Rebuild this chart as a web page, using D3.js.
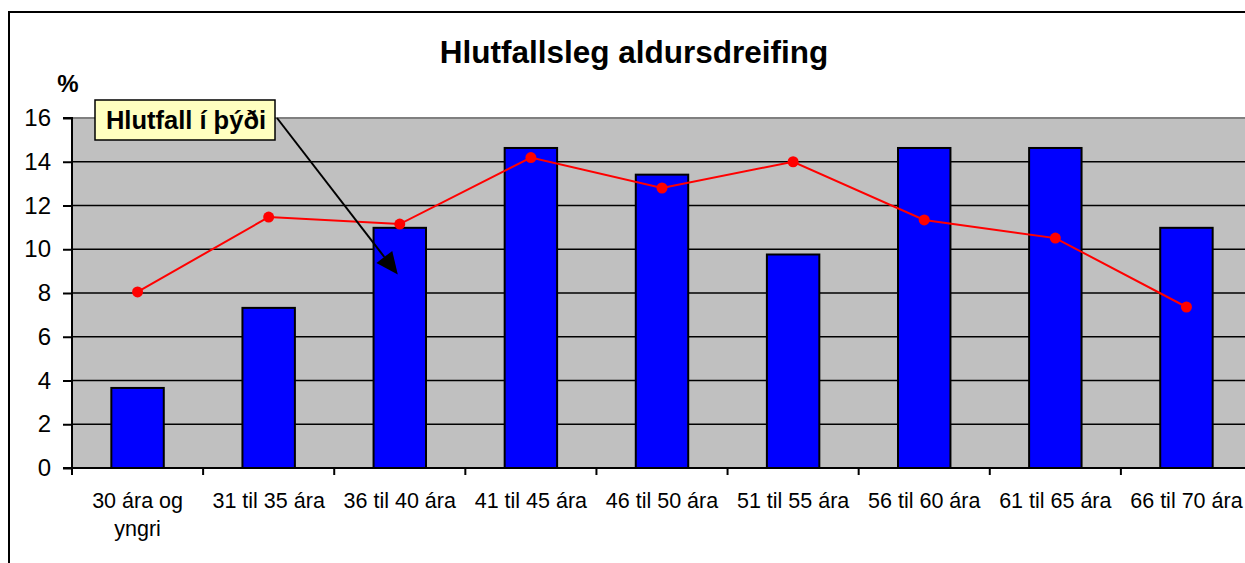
<!DOCTYPE html>
<html>
<head>
<meta charset="utf-8">
<script src="https://cdn.jsdelivr.net/npm/d3@7"></script>
<style>
  html, body { margin: 0; padding: 0; background: #fff; }
  svg { display: block; font-family: Arial, "Liberation Sans", sans-serif; }
</style>
</head>
<body>
<svg id="chart" width="1245" height="563"></svg>
<script>
const categories = ["30 ára og|yngri", "31 til 35 ára", "36 til 40 ára", "41 til 45 ára", "46 til 50 ára", "51 til 55 ára", "56 til 60 ára", "61 til 65 ára", "66 til 70 ára"];
const sampleShare = [3.66, 7.32, 10.98, 14.63, 13.41, 9.76, 14.63, 14.63, 10.98];
const populationShare = [8.05, 11.47, 11.15, 14.19, 12.8, 14.0, 11.34, 10.51, 7.36];
const yTicks = [0, 2, 4, 6, 8, 10, 12, 14, 16];
const titleText = "Hlutfallsleg aldursdreifing";
const yUnitText = "%";
const calloutText = "Hlutfall í þýði";

const svg = d3.select("#chart");
const W = 1245, H = 563;
const plot = { left: 72, right: 1252, top: 118, bottom: 468 };

// outer chart border (cropped on right and bottom)
svg.append("path")
  .attr("d", `M9,${H + 5} L9,12 L${W + 5},12`)
  .attr("fill", "none").attr("stroke", "#000").attr("stroke-width", 2);

const x = d3.scaleBand().domain(categories).range([plot.left, plot.right])
  .paddingInner(0.6).paddingOuter(0.3);
const y = d3.scaleLinear().domain([0, 16]).range([plot.bottom, plot.top]);

// plot area
svg.append("rect")
  .attr("x", plot.left).attr("y", plot.top)
  .attr("width", plot.right - plot.left).attr("height", plot.bottom - plot.top)
  .attr("fill", "#C0C0C0");
svg.append("line")
  .attr("x1", plot.left).attr("x2", plot.right)
  .attr("y1", plot.top).attr("y2", plot.top)
  .attr("stroke", "#808080").attr("stroke-width", 2);

// gridlines
svg.append("g").selectAll("line").data(yTicks.filter(d => d > 0 && d < 16)).join("line")
  .attr("x1", plot.left).attr("x2", plot.right)
  .attr("y1", d => y(d)).attr("y2", d => y(d))
  .attr("stroke", "#000").attr("stroke-width", 1.6);

// bars
svg.append("g").selectAll("rect").data(sampleShare).join("rect")
  .attr("x", (d, i) => x(categories[i]))
  .attr("y", d => y(d))
  .attr("width", x.bandwidth())
  .attr("height", d => y(0) - y(d))
  .attr("fill", "#0000FF").attr("stroke", "#000").attr("stroke-width", 2);

// y axis
const yAxis = d3.axisLeft(y).tickValues(yTicks).tickSize(9).tickPadding(12).tickFormat(d3.format("d"));
const gy = svg.append("g").attr("transform", `translate(${plot.left},0)`).call(yAxis);
gy.select(".domain").attr("stroke", "#000").attr("stroke-width", 2).attr("d", `M-9,${plot.top}H0V${plot.bottom}H-9`);
gy.selectAll(".tick line").attr("stroke", "#000").attr("stroke-width", 2);
gy.selectAll(".tick text").attr("fill", "#000").attr("font-size", 24)
  .attr("font-family", "Arial, 'Liberation Sans', sans-serif");

// x axis line and ticks at category boundaries
const boundaries = categories.map(d => x(d) - (x(categories[0]) - plot.left));
svg.append("line")
  .attr("x1", plot.left).attr("x2", plot.right)
  .attr("y1", plot.bottom).attr("y2", plot.bottom)
  .attr("stroke", "#000").attr("stroke-width", 2);
svg.append("g").selectAll("line").data(boundaries).join("line")
  .attr("x1", d => d).attr("x2", d => d)
  .attr("y1", plot.bottom).attr("y2", plot.bottom + 7)
  .attr("stroke", "#000").attr("stroke-width", 2);

// x labels
const xl = svg.append("g").selectAll("text").data(categories).join("text")
  .attr("x", d => x(d) + x.bandwidth() / 2)
  .attr("y", 508)
  .attr("text-anchor", "middle")
  .attr("font-size", 21.5)
  .attr("fill", "#000");
xl.each(function(d) {
  const parts = d.split("|");
  const t = d3.select(this);
  parts.forEach((p, k) => {
    t.append("tspan").attr("x", x(d) + x.bandwidth() / 2).attr("dy", k === 0 ? 0 : 28).text(p);
  });
});

// line series
const line = d3.line()
  .x((d, i) => x(categories[i]) + x.bandwidth() / 2)
  .y(d => y(d));
svg.append("path").datum(populationShare)
  .attr("d", line).attr("fill", "none").attr("stroke", "#FF0000").attr("stroke-width", 2);
svg.append("g").selectAll("circle").data(populationShare).join("circle")
  .attr("cx", (d, i) => x(categories[i]) + x.bandwidth() / 2)
  .attr("cy", d => y(d))
  .attr("r", 5.5).attr("fill", "#FF0000");

// title and unit
svg.append("text").attr("x", 634).attr("y", 63).attr("text-anchor", "middle")
  .attr("font-size", 31.5).attr("font-weight", "bold").attr("fill", "#000").text(titleText);
svg.append("text").attr("x", 68).attr("y", 92).attr("text-anchor", "middle")
  .attr("font-size", 24).attr("font-weight", "bold").attr("fill", "#000").text(yUnitText);

// callout with arrow
const box = { x: 95, y: 100, w: 180, h: 40 };
const tip = [x(categories[2]) + x.bandwidth() / 2 - 2, y(8.85)];
const start = [box.x + box.w + 2, box.y + 18];
const ang = Math.atan2(tip[1] - start[1], tip[0] - start[0]);
const headLen = 22, headHalf = 10;
const base = [tip[0] - headLen * Math.cos(ang), tip[1] - headLen * Math.sin(ang)];
svg.append("line")
  .attr("x1", start[0]).attr("y1", start[1]).attr("x2", base[0]).attr("y2", base[1])
  .attr("stroke", "#000").attr("stroke-width", 2);
svg.append("path")
  .attr("d", `M${tip[0]},${tip[1]} L${base[0] + headHalf * Math.sin(ang)},${base[1] - headHalf * Math.cos(ang)} L${base[0] - headHalf * Math.sin(ang)},${base[1] + headHalf * Math.cos(ang)} Z`)
  .attr("fill", "#000");
svg.append("rect").attr("x", box.x).attr("y", box.y).attr("width", box.w).attr("height", box.h)
  .attr("fill", "#FFFFC0").attr("stroke", "#000").attr("stroke-width", 1.5);
svg.append("text").attr("x", box.x + box.w / 2 + 1).attr("y", box.y + 29).attr("text-anchor", "middle")
  .attr("font-size", 25.5).attr("font-weight", "bold").attr("fill", "#000").text(calloutText);
</script>
</body>
</html>
